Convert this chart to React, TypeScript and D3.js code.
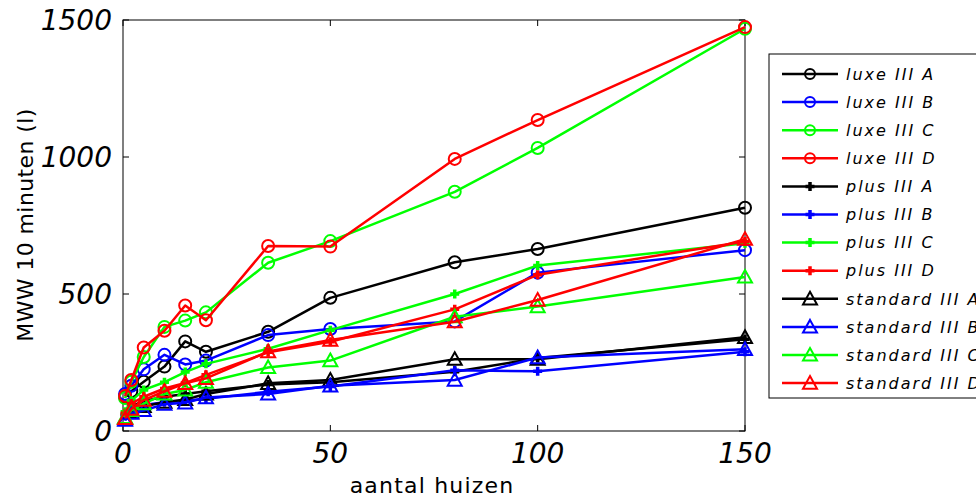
import React from 'react';
import * as d3 from 'd3';

const xValues = [0.5, 2, 5, 10, 15, 20, 35, 50, 80, 100, 150];

const seriesNames = [
  'luxe III A', 'luxe III B', 'luxe III C', 'luxe III D',
  'plus III A', 'plus III B', 'plus III C', 'plus III D',
  'standard III A', 'standard III B', 'standard III C', 'standard III D',
];
const seriesColors = [
  '#000000', '#0000ff', '#00ff00', '#ff0000',
  '#000000', '#0000ff', '#00ff00', '#ff0000',
  '#000000', '#0000ff', '#00ff00', '#ff0000',
];
const seriesMarkers = [
  'circle', 'circle', 'circle', 'circle',
  'plus', 'plus', 'plus', 'plus',
  'triangle', 'triangle', 'triangle', 'triangle',
];

const luxeA = [125, 145, 180, 235, 327, 289, 362, 486, 616, 664, 815];
const luxeB = [135, 165, 225, 278, 243, 257, 350, 372, 400, 578, 660];
const luxeC = [120, 180, 270, 380, 403, 433, 614, 693, 873, 1033, 1468];
const luxeD = [128, 186, 305, 366, 458, 404, 675, 673, 993, 1135, 1474];
const plusA = [60, 90, 110, 125, 135, 145, 170, 178, 216, 266, 335];
const plusB = [55, 80, 95, 105, 110, 118, 143, 162, 222, 218, 289];
const plusC = [70, 110, 150, 178, 215, 245, 300, 368, 500, 604, 685];
const plusD = [65, 100, 125, 155, 175, 205, 287, 326, 444, 570, 692];
const standardA = [45, 70, 90, 105, 115, 135, 174, 186, 262, 262, 342];
const standardB = [40, 65, 75, 98, 103, 122, 135, 165, 186, 268, 298];
const standardC = [50, 75, 100, 135, 150, 178, 232, 257, 417, 454, 562];
const standardD = [46, 80, 113, 145, 174, 192, 290, 332, 399, 478, 700];

const seriesValues = [
  luxeA, luxeB, luxeC, luxeD,
  plusA, plusB, plusC, plusD,
  standardA, standardB, standardC, standardD,
];

const xTicks = [0, 50, 100, 150];
const yTicks = [0, 500, 1000, 1500];
const xLabel = 'aantal huizen';
const yLabel = 'MWW 10 minuten (l)';

const W = 976;
const H = 497;
const left = 123, right = 745, top = 20, bottom = 431;

const x = d3.scaleLinear().domain([0, 150]).range([left, right]);
const y = d3.scaleLinear().domain([0, 1500]).range([bottom, top]);

const font = '"DejaVu Sans", sans-serif';

function Marker({ kind, cx, cy, color, r = 6 }: { kind: string; cx: number; cy: number; color: string; r?: number }) {
  if (kind === 'circle') {
    return <circle cx={cx} cy={cy} r={r} fill="none" stroke={color} strokeWidth={2} />;
  }
  if (kind === 'triangle') {
    const s = 7;
    const p = `M${cx},${cy - s} L${cx + s},${cy + s * 0.8} L${cx - s},${cy + s * 0.8} Z`;
    return <path d={p} fill="none" stroke={color} strokeWidth={2} strokeLinejoin="miter" />;
  }
  const s = 4.5;
  const p = `M${cx - s},${cy} L${cx + s},${cy} M${cx},${cy - s} L${cx},${cy + s}`;
  return <path d={p} fill="none" stroke={color} strokeWidth={3.5} />;
}

export default function App() {
  const line = d3
    .line<number>()
    .x((_, i) => x(xValues[i]))
    .y((v) => y(v));

  const legendX = 769, legendY = 54, legendH = 344, rowH = 28.1, rowY0 = 74;

  return (
    <svg
      width={W}
      height={H}
      style={{ position: 'absolute', left: 0, top: 0, background: '#fff' }}
      xmlns="http://www.w3.org/2000/svg"
    >
      <rect x={0} y={0} width={W} height={H} fill="#fff" />
      <rect x={left} y={top} width={right - left} height={bottom - top} fill="#fff" stroke="#000" strokeWidth={1} />
      {xTicks.map((t) => (
        <g key={'xt' + t}>
          <line x1={x(t)} x2={x(t)} y1={bottom} y2={bottom - 6} stroke="#000" />
          <line x1={x(t)} x2={x(t)} y1={top} y2={top + 6} stroke="#000" />
          <text x={x(t)} y={463} textAnchor="middle" fontFamily={font} fontStyle="italic" fontSize={28}>
            {t}
          </text>
        </g>
      ))}
      {yTicks.map((t) => (
        <g key={'yt' + t}>
          <line x1={left} x2={left + 6} y1={y(t)} y2={y(t)} stroke="#000" />
          <line x1={right} x2={right - 6} y1={y(t)} y2={y(t)} stroke="#000" />
          <text x={112} y={y(t)} dy="0.36em" textAnchor="end" fontFamily={font} fontStyle="italic" fontSize={28}>
            {t}
          </text>
        </g>
      ))}
      <text x={432} y={493} textAnchor="middle" fontFamily={font} fontSize={22} letterSpacing={1.2}>
        {xLabel}
      </text>
      <text
        transform={`translate(33, ${225}) rotate(-90)`}
        textAnchor="middle"
        fontFamily={font}
        fontSize={22}
        letterSpacing={0.4}
      >
        {yLabel}
      </text>

      {seriesValues.map((vals, si) => (
        <g key={'s' + si}>
          <path d={line(vals) || ''} fill="none" stroke={seriesColors[si]} strokeWidth={2.5} strokeLinejoin="round" />
          {vals.map((v, i) => (
            <Marker key={i} kind={seriesMarkers[si]} cx={x(xValues[i])} cy={y(v)} color={seriesColors[si]} />
          ))}
        </g>
      ))}

      <rect x={legendX} y={legendY} width={260} height={legendH} fill="#fff" stroke="#000" strokeWidth={1} />
      {seriesNames.map((name, i) => {
        const ry = rowY0 + i * rowH;
        return (
          <g key={'l' + i}>
            <line x1={782} x2={838} y1={ry} y2={ry} stroke={seriesColors[i]} strokeWidth={2.5} />
            <Marker kind={seriesMarkers[i]} cx={810} cy={ry} color={seriesColors[i]} r={5} />
            <text x={846} y={ry} dy="0.36em" fontFamily={font} fontStyle="italic" fontSize={16} letterSpacing={2}>
              {name}
            </text>
          </g>
        );
      })}
    </svg>
  );
}
